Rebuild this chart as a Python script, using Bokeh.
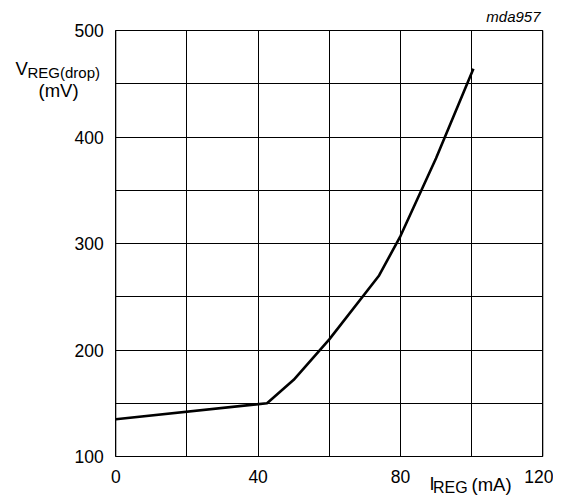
from bokeh.plotting import figure
from bokeh.models import Range1d, FixedTicker, Label, LinearAxis, Grid
from bokeh.embed import file_html
from bokeh.resources import INLINE

# Data
i_reg = [0, 42.5, 50, 60, 74, 80, 90, 100.5]          # mA
v_drop = [135, 150, 172, 210, 270, 307, 380, 464]     # mV

x_tick_labels = [0, 40, 80, 120]
y_tick_labels = [100, 200, 300, 400, 500]
x_grid = [0, 20, 40, 60, 80, 100, 120]
y_grid = [100, 150, 200, 250, 300, 350, 400, 450, 500]

FONT = "Liberation Sans"
W, H = 553, 496
# chart box in canvas pixels
BL, BR, BT, BB = 115.3, 542.3, 30.0, 456.0
kx = (BR - BL) / 120.0
ky = (BB - BT) / 400.0

p = figure(width=W, height=H,
           x_range=Range1d(0 - BL / kx, 120 + (W - BR) / kx),
           y_range=Range1d(100 - (H - BB) / ky, 500 + BT / ky),
           x_axis_location=None, y_axis_location=None,
           output_backend="svg", toolbar_location=None, min_border=0)
p.outline_line_color = None
p.background_fill_color = "white"
p.border_fill_color = "white"
for g in p.grid:
    g.visible = False

# grid
try:
    gx = Grid(dimension=0, ticker=FixedTicker(ticks=x_grid), bounds=(0, 120), cross_bounds=(100, 500))
    gy = Grid(dimension=1, ticker=FixedTicker(ticks=y_grid), bounds=(100, 500), cross_bounds=(0, 120))
    for g in (gx, gy):
        g.grid_line_color = "black"
        g.grid_line_width = 1
        p.add_layout(g, "center")
except Exception:
    p.segment(x0=x_grid, x1=x_grid, y0=[100] * len(x_grid), y1=[500] * len(x_grid),
              line_color="black", line_width=1)
    p.segment(x0=[0] * len(y_grid), x1=[120] * len(y_grid), y0=y_grid, y1=y_grid,
              line_color="black", line_width=1)

p.quad(left=[0], right=[120], bottom=[100], top=[500], fill_color=None,
       line_color="black", line_width=1)

# axes (fixed inside the canvas)
xa = LinearAxis(fixed_location=100, ticker=FixedTicker(ticks=x_tick_labels))
ya = LinearAxis(fixed_location=0, ticker=FixedTicker(ticks=y_tick_labels))
for ax in (xa, ya):
    ax.major_tick_line_color = None
    ax.minor_tick_line_color = None
    ax.axis_line_color = None
    ax.major_label_text_font = FONT
    ax.major_label_text_font_size = "17.5px"
    ax.major_label_text_color = "black"
xa.major_label_standoff = 7
ya.major_label_standoff = 6
p.add_layout(xa, "below")
p.add_layout(ya, "left")

p.line(i_reg, v_drop, line_color="black", line_width=2.6)

labels = [
    ("V", 15, 68, "left", "18.5px", "normal"),
    ("REG(drop)", 27, 71.5, "left", "15px", "normal"),
    ("(mV)", 58, 90, "center", "18.5px", "normal"),
    ("I", 429, 483.5, "left", "18px", "normal"),
    ("REG", 432.5, 486.5, "left", "16px", "normal"),
    ("(mA)", 471, 483.5, "left", "18.5px", "normal"),
    ("mda957", 540, 16, "right", "15px", "italic"),
]
for txt, px, py, al, fs, st in labels:
    p.add_layout(Label(x=px, y=py, x_units="canvas", y_units="canvas", text=txt,
                       text_align=al, text_baseline="alphabetic",
                       text_font=FONT, text_font_size=fs, text_font_style=st,
                       text_color="black"))

open("out.html", "w").write(file_html(p, INLINE))
